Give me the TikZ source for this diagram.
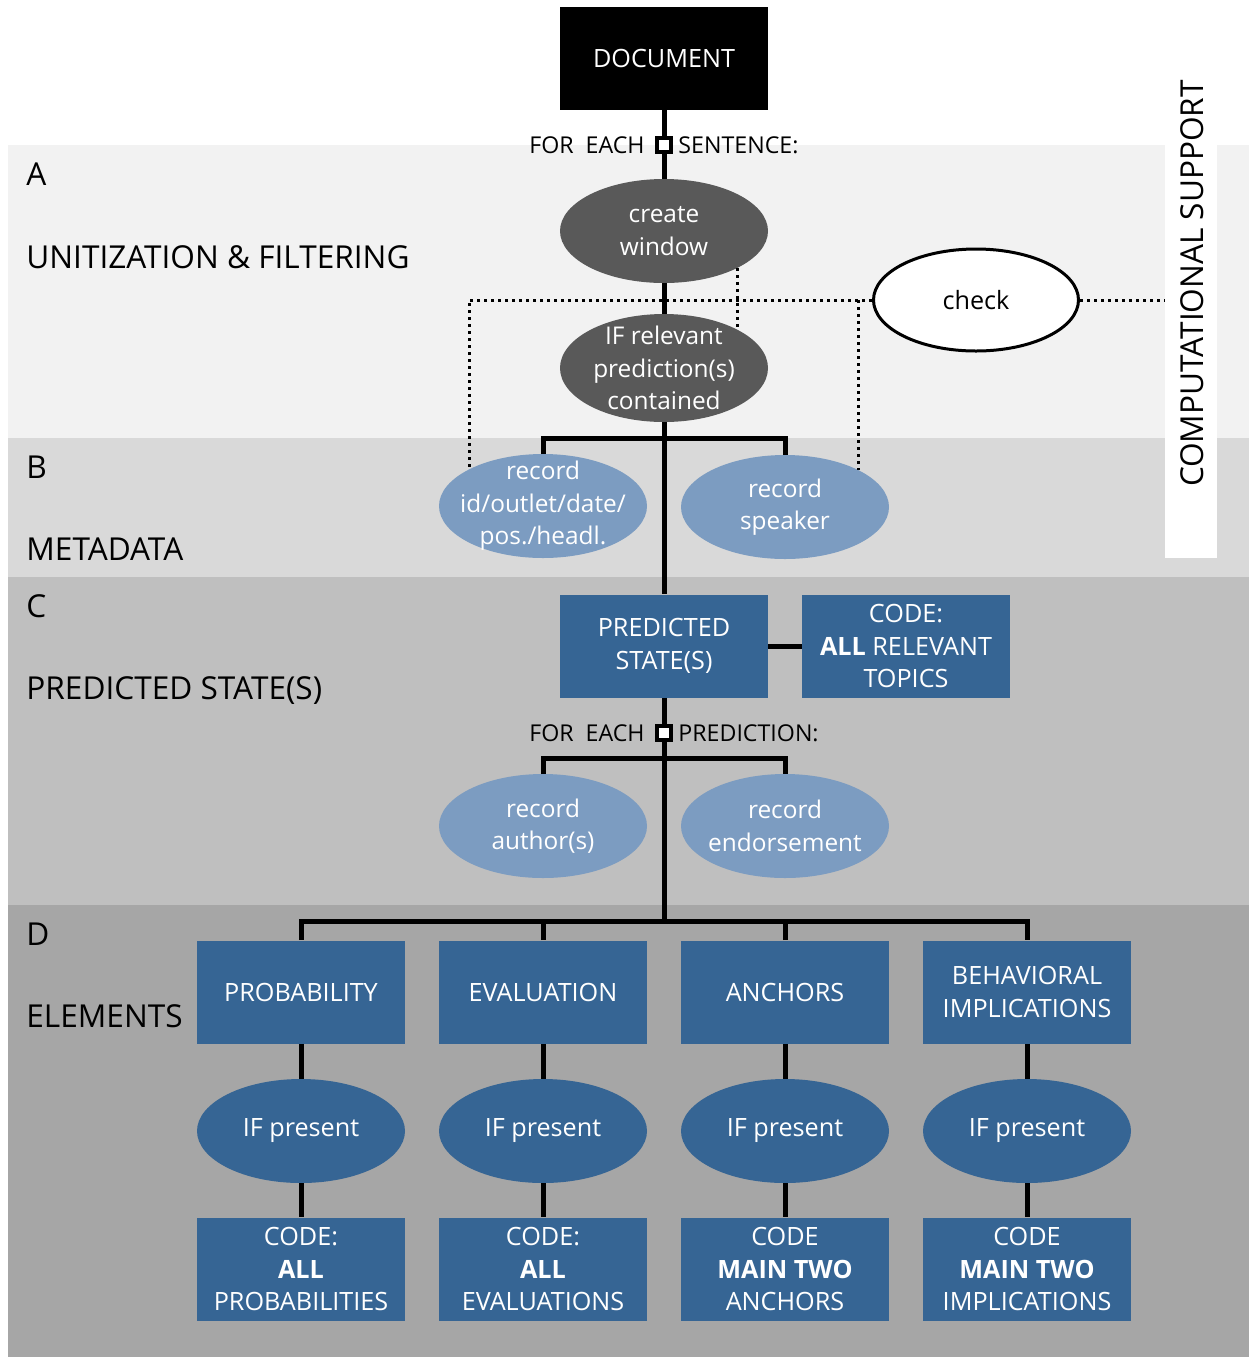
\documentclass[tikz,border=0pt]{standalone}
\usepackage{fontspec}
\setmainfont{Open Sans}
\usetikzlibrary{shapes.geometric}

\definecolor{bandA}{HTML}{F2F2F2}
\definecolor{bandB}{HTML}{D9D9D9}
\definecolor{bandC}{HTML}{BFBFBF}
\definecolor{bandD}{HTML}{A6A6A6}
\definecolor{darkgrey}{HTML}{595959}
\definecolor{paleblue}{HTML}{7C9CC1}
\definecolor{deepblue}{HTML}{366594}

\tikzset{
  nodefont/.style={font=\fontsize{12.6}{16.2}\selectfont},
  ovalfont/.style={font=\fontsize{12.2}{16.2}\selectfont},
  bluebox/.style={rectangle, fill=deepblue, text=white, minimum width=104pt,
    minimum height=51.5pt, inner sep=0pt, align=center, nodefont},
  docbox/.style={bluebox, fill=black},
  % ovals keep a fixed size whatever their text
  greyoval/.style={ellipse, fill=darkgrey, text=white, minimum width=104pt,
    minimum height=52pt, inner xsep=-60pt, inner ysep=-35pt, outer sep=0pt,
    align=center, ovalfont},
  paleoval/.style={greyoval, fill=paleblue},
  blueoval/.style={greyoval, fill=deepblue, nodefont},
  checkoval/.style={ellipse, draw=black, line width=1.5pt, fill=white,
    minimum width=102.5pt, minimum height=51pt, inner sep=0pt, nodefont},
  link/.style={line width=2.5pt, draw=black},
  dots/.style={line width=1.5pt, dash pattern=on 1.5pt off 2pt, draw=black},
  loopmark/.style={rectangle, draw=black, fill=white, line width=2pt,
    minimum size=7pt, inner sep=0pt},
  looptext/.style={font=\fontsize{11.6}{14}\selectfont, inner sep=0pt},
  bandletter/.style={anchor=base west, inner sep=0pt, font=\fontsize{15.8}{18}\selectfont},
  bandtitle/.style={bandletter},
}

\begin{document}
\begin{tikzpicture}[x=0.5pt,y=-0.5pt]
\useasboundingbox (0,0) rectangle (1249,1357);

% horizontal bands
\fill[bandA] (8,145) rectangle (1249,438);
\fill[bandB] (8,438) rectangle (1249,577);
\fill[bandC] (8,577) rectangle (1249,905);
\fill[bandD] (8,905) rectangle (1249,1357);

% computational support strip
\node[fill=white, minimum width=26pt, minimum height=206.5pt, inner sep=0pt] (strip) at (1191,351.5) {};
\node[rotate=90, inner sep=0pt, font=\fontsize{15.8}{18}\selectfont] (csup) at (1192,283.5) {COMPUTATIONAL SUPPORT};

% band labels
\node[bandletter] (la) at (26,185) {A};
\node[bandtitle] (ta) at (26,268) {UNITIZATION \& FILTERING};
\node[bandletter] (lb) at (26,478) {B};
\node[bandtitle] (tb) at (26,560) {METADATA};
\node[bandletter] (lc) at (26,617) {C};
\node[bandtitle] (tc) at (26,699) {PREDICTED STATE(S)};
\node[bandletter] (ld) at (26,945) {D};
\node[bandtitle] (td) at (26,1027) {ELEMENTS};

% nodes
\node[docbox] (doc) at (664,58) {DOCUMENT};
\node[greyoval] (cw) at (664,231) {create\\window};
\node[greyoval, minimum height=54pt] (rel) at (664,368) {IF relevant\\prediction(s)\\contained};
\node[paleoval] (rid) at (543,506) {record\\id/outlet/date/\\pos./headl.};
\node[paleoval] (rsp) at (785,507) {record\\speaker};
\node[checkoval] (check) at (976,300) {check};
\node[bluebox] (ps) at (664,646) {PREDICTED\\STATE(S)};
\node[bluebox] (topics) at (906,646) {CODE:\\\textbf{ALL} RELEVANT\\TOPICS};
\node[paleoval] (ra) at (543,826) {record\\author(s)};
\node[paleoval] (re) at (785,826) {record\\endorsement};

\node[bluebox] (e1) at (301,992) {PROBABILITY};
\node[bluebox] (e2) at (543,992) {EVALUATION};
\node[bluebox] (e3) at (785,992) {ANCHORS};
\node[bluebox] (e4) at (1027,992) {BEHAVIORAL\\IMPLICATIONS};

\node[blueoval] (i1) at (301,1131) {IF present};
\node[blueoval] (i2) at (543,1131) {IF present};
\node[blueoval] (i3) at (785,1131) {IF present};
\node[blueoval] (i4) at (1027,1131) {IF present};

\node[bluebox] (c1) at (301,1269) {CODE:\\\textbf{ALL}\\PROBABILITIES};
\node[bluebox] (c2) at (543,1269) {CODE:\\\textbf{ALL}\\EVALUATIONS};
\node[bluebox] (c3) at (785,1269) {CODE\\\textbf{MAIN TWO}\\ANCHORS};
\node[bluebox] (c4) at (1027,1269) {CODE\\\textbf{MAIN TWO}\\IMPLICATIONS};

% dotted links to the check step
\draw[dots] (check.west) -- (rid.north west |- check.west) -- (rid.north west);
\draw[dots] (rsp.north east |- check.west) -- (rsp.north east);
\draw[dots] (cw.south east) -- (rel.north east);
\draw[dots] (check.east) -- (strip.west |- check.east);

% main trunk
\coordinate (split) at ([yshift=9.5pt]e1.north);
\draw[link] (doc.south) -- (cw.north);
\draw[link] (cw.south) -- (rel.north);
\draw[link] (rel.south) -- (ps.north);
\draw[link] (rid.north) -- ++(0,-16) -| (rsp.north);
\draw[link] (ps.east) -- (topics.west);
\draw[link] (ps.south) -- (ps.south |- split);
\draw[link] (ra.north) -- ++(0,-16) -| (re.north);
\draw[link] (e1.north) -- (split) -| (e4.north);
\draw[link] (e2.north) -- (e2.north |- split);
\draw[link] (e3.north) -- (e3.north |- split);
\foreach \k in {1,2,3,4} {
  \draw[link] (e\k.south) -- (i\k.north);
  \draw[link] (i\k.south) -- (c\k.north);
}

% loop markers
\node[loopmark] (m1) at (664,145) {};
\node[looptext, anchor=east] (f1) at ([xshift=-5pt]m1.west) {FOR\ \ EACH};
\node[looptext, anchor=west] (s1) at ([xshift=2.5pt]m1.east) {SENTENCE:};
\node[loopmark] (m2) at (664,733) {};
\node[looptext, anchor=east] (f2) at ([xshift=-5pt]m2.west) {FOR\ \ EACH};
\node[looptext, anchor=west] (s2) at ([xshift=2.5pt]m2.east) {PREDICTION:};

\end{tikzpicture}
\end{document}
